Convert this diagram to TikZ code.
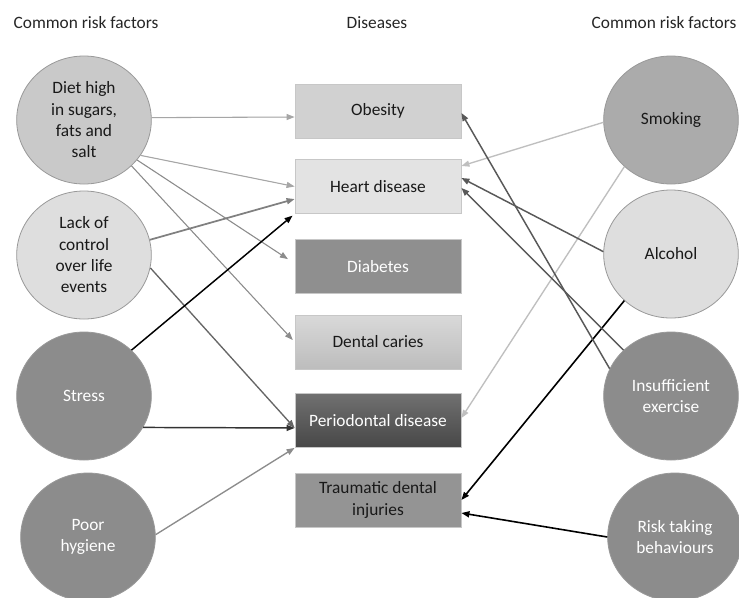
\documentclass[tikz,border=0pt]{standalone}
\usepackage{fontspec}
\setmainfont{Carlito}
\usetikzlibrary{arrows.meta,shapes.geometric}

\begin{document}
\begin{tikzpicture}
[x=0.75pt,y=-0.75pt,
  riskDecorate/.style={shape=ellipse,draw=black!40,line width=0.6pt,inner sep=0pt,%
    minimum width=101pt,minimum height=96pt,align=center,font=\fontsize{13}{16}\selectfont},%
  diseaseDecorate/.style={shape=rectangle,draw=black!22,line width=0.6pt,inner sep=2pt,%
    minimum width=124.5pt,minimum height=40.5pt,align=center,font=\fontsize{13}{16}\selectfont},%
  titleDecorate/.style={font=\fontsize{13}{16}\selectfont,text=black!85},%
  arrowDecorate/.style={-{Triangle[length=6pt,width=4.5pt]}}]
%% page
\clip (0,0) rectangle (739,597);
\fill[white] (0,0) rectangle (739,597);
%% column titles
\node[titleDecorate] (leftTitle) at (86,23) {Common risk factors};
\node[titleDecorate] (diseaseTitle) at (377,23) {Diseases};
\node[titleDecorate] (rightTitle) at (664,23) {Common risk factors};
%% risk factors
\foreach \nodename/\x/\y/\shade/\ink/\label in {
  diet/84/120/black!21/black!90/{Diet high\\in sugars,\\fats and\\salt},
  lack/84/255/black!13/black!90/{Lack of\\control\\over life\\events},
  stress/84/396/black!45/white/{Stress},
  hygiene/88/537/black!45/white/{Poor\\hygiene},
  smoking/671/120/black!33/black!90/{Smoking},
  alcohol/671/254/black!13/black!90/{Alcohol},
  exercise/671/396/black!45/white/{Insufficient\\exercise},
  risk/675/537/black!45/white/{Risk taking\\behaviours}}
{
  \node (\nodename) at (\x,\y) [riskDecorate,fill=\shade,text=\ink] {\label};
}
%% diseases
\foreach \nodename/\y/\topshade/\bottomshade/\ink/\label in {
  obesity/111/black!18/black!18/black!90/{Obesity},
  heart/186.5/black!11/black!11/black!90/{Heart disease},
  diabetes/266.5/black!44/black!44/white/{Diabetes},
  caries/342/black!15/black!26/black!90/{Dental caries},
  periodontal/420.5/black!56/black!72/white/{Periodontal disease},
  traumatic/500/black!42/black!42/black!90/{Traumatic dental\\injuries}}
{
  \node (\nodename) at (378,\y) [diseaseDecorate,top color=\topshade,bottom color=\bottomshade,text=\ink] {\label};
}
%% arrows from risk factors to diseases
\foreach \riskname/\diseasename/\shift/\gap/\col/\wd in {
  diet.2/obesity.west/-4.5pt/0pt/black!35/0.8pt,
  diet.-32/heart.west/0pt/0pt/black!35/0.8pt,
  diet.-37/diabetes.west/2.25pt/6pt/black!45/0.8pt,
  diet.-44/caries.west/0pt/2pt/black!45/0.8pt,
  lack.13/heart.west/-9.4pt/0pt/black!50/1.3pt,
  lack.-11/periodontal.west/-5.6pt/0pt/black!60/1pt,
  stress.44/heart.south west/0pt/2pt/black/1.1pt,
  stress.-28/periodontal.west/-5.6pt/0pt/black!80/1.1pt,
  hygiene.2/periodontal.south west/0pt/0pt/black!45/1pt,
  smoking.182/heart.east/15.4pt/0pt/black!25/1pt,
  smoking.225/periodontal.east/1.9pt/0pt/black!25/1pt,
  alcohol.178/heart.east/6.4pt/0pt/black!65/1.1pt,
  alcohol.225/traumatic.east/0pt/0pt/black/1.2pt,
  exercise.156/obesity.east/-1.5pt/0pt/black!65/1.1pt,
  exercise.136/heart.east/-1.1pt/0pt/black!65/1.1pt,
  risk.180/traumatic.east/-9.75pt/0pt/black/1.2pt}
{
  \draw[arrowDecorate,draw=\col,fill=\col,line width=\wd,shorten >=\gap]
    (\riskname) -- ([yshift=\shift]\diseasename);
}
\end{tikzpicture}
\end{document}
